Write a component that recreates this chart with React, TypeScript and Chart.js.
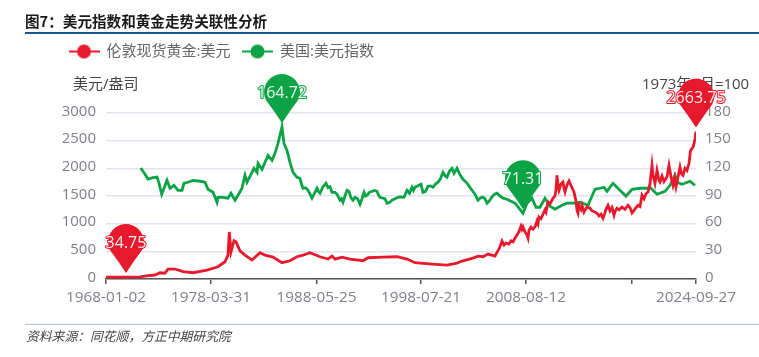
import React, { useEffect, useRef } from "react";
import { Chart, registerables } from "chart.js";

Chart.register(...registerables);

const seriesNames = ["伦敦现货黄金:美元", "美国:美元指数"];
const titleText = "图7：美元指数和黄金走势关联性分析";
const sourceText = "资料来源：同花顺，方正中期研究院";
const leftUnit = "美元/盎司";
const rightUnit = "1973年3月=100";

const xTickPositions = [0, 10.5, 21.05, 31.5, 42, 52.55, 59];
const xTickLabels = ["1968-01-02", "1978-03-31", "1988-05-25", "1998-07-21", "2008-08-12", "", "2024-09-27"];

const goldPos = [0, 2, 3.4, 4.2, 4.9, 5.4, 5.9, 6.2, 6.9, 7.7, 8.7, 10.1, 11.2, 11.9, 12.2, 12.33, 12.5, 12.8, 13, 13.4, 13.9, 14.6, 15.4, 15.9, 16.7, 17.6, 18.4, 19.1, 19.7, 20.4, 21.4, 22.2, 22.6, 22.9, 23.6, 24.4, 25.7, 26.2, 27.7, 29.1, 30.1, 30.9, 32.6, 34.1, 35.1, 35.6, 36.7, 37.2, 37.7, 38.2, 38.9,
  39.4, 39.6, 39.8, 40, 40.3, 40.5, 40.7, 40.9, 41.1, 41.3, 41.5, 41.6, 41.7, 41.9, 42.1, 42.2, 42.3, 42.5, 42.7, 42.9, 43.1, 43.2, 43.3, 43.5, 43.7, 43.9, 44, 44.2, 44.4, 44.7, 44.9, 45, 45.1, 45.2, 45.3, 45.5, 45.7, 45.8, 45.9, 46.1, 46.3, 46.5, 46.8, 47, 47.1, 47.2, 47.3, 47.5, 47.6, 47.8, 47.9, 48.1, 48.4, 48.6, 48.9, 49.1, 49.3, 49.5, 49.7, 49.9, 50, 50.2, 50.4, 50.6, 50.8, 50.9, 51.1, 51.3, 51.6, 51.9, 52.2, 52.4, 52.6, 52.8, 53, 53.2, 53.4, 53.6, 53.8, 54, 54.2, 54.4, 54.6, 54.7, 54.9, 55, 55.1, 55.3, 55.4, 55.6, 55.8, 56.1, 56.2, 56.3, 56.5, 56.7, 56.85, 57, 57.2, 57.4, 57.55, 57.7, 57.9, 58.1, 58.3, 58.45, 58.6, 58.7, 58.8, 58.9, 59];
const goldValues = [35, 34.75, 38, 60, 72, 113, 108, 180, 180, 132, 113, 162, 222, 312, 432, 850, 492, 690, 672, 510, 432, 342, 474, 432, 396, 294, 330, 402, 432, 474, 402, 360, 414, 360, 396, 360, 330, 384, 396, 402, 360, 294, 270, 252, 288, 324, 378, 414, 402, 450, 414,
  582, 684, 612, 650, 630, 690, 672, 740, 793, 860, 955, 900, 942, 850, 793, 740, 880, 937, 900, 942, 1050, 1000, 1122, 1090, 1171, 1250, 1210, 1393, 1360, 1459, 1500, 1620, 1874, 1700, 1604, 1720, 1753, 1640, 1573, 1700, 1771, 1690, 1573, 1400, 1243, 1190, 1330, 1260, 1333, 1210, 1243, 1300, 1279, 1230, 1210, 1189, 1140, 1170, 1099, 1200, 1260, 1333, 1230, 1290, 1153, 1220, 1279, 1250, 1300, 1260, 1333, 1290, 1195, 1240, 1290, 1333, 1310, 1513, 1450, 1540, 1573, 1720, 2054, 1880, 1730, 1850, 1964, 1780, 1753, 1860, 1760, 1843, 1950, 2054, 1850, 1694, 1820, 1663, 1840, 2023, 1900, 1874, 2000, 1960, 2090, 2320, 2360, 2380, 2450, 2530, 2663.75];

const dollarPos = [3.47, 3.9, 4.2, 4.7, 5.1, 5.3, 5.57, 5.8, 6.1, 6.4, 6.8, 7.2, 7.6, 7.8, 8.2, 8.7, 9.4, 9.9, 10.2, 10.7, 11.1, 11.2, 11.7, 12.2, 12.5, 12.9, 13.2, 13.6, 13.9, 14.1, 14.8, 15.1, 15.2, 15.6, 16.2, 16.6, 16.9, 17.2, 17.6, 17.8, 18.1, 18.4, 18.7, 19.1,
  19.4, 19.55, 19.7, 19.95, 20.2, 20.4, 20.6, 20.85, 21.1, 21.25, 21.4, 21.7, 22, 22.2, 22.4, 22.6, 22.9, 23.1, 23.4, 23.55, 23.7, 23.9, 24.1, 24.3, 24.5, 24.7, 24.9, 25.15, 25.4, 25.6, 25.8, 25.95, 26.1, 26.35, 26.6, 26.85, 27.1, 27.25, 27.4, 27.7, 27.9, 28.1, 28.35, 28.6, 28.9, 29.2, 29.5, 29.8, 30.1, 30.35, 30.6, 30.75, 30.9, 31.2, 31.5, 31.7, 31.95, 32.2, 32.45, 32.7, 32.95, 33.2, 33.45, 33.7, 33.9, 34.1, 34.35, 34.6, 34.8, 35.1, 35.4, 35.7, 36.1, 36.6, 36.9, 37.2, 37.45, 37.7, 37.9, 38.1, 38.35, 38.6, 38.85, 39.1, 39.4, 39.7, 40.1,
  40.9, 41.7, 42.1, 42.6, 43, 43.4, 43.9, 44.4, 44.9, 45.6, 46.1, 46.9, 47.4, 48.2, 48.9, 49.4, 49.8, 50.1, 50.7, 51.2, 52, 52.6, 53.4, 54.1, 54.4, 55.1, 55.9, 56.4, 56.9, 57.1, 57.6, 58.4, 58.9];
const dollarValues = [120.3, 113.5, 108.4, 110, 110.6, 103.8, 91.9, 98.4, 107, 98.4, 101.6, 96.2, 96.2, 103.8, 104.9, 107, 106, 104.9, 97.3, 94, 83.2, 88.6, 88.6, 87.6, 93, 85.4, 90.8, 98.4, 112.4, 104.9, 120, 115.7, 125.4, 118.9, 134, 128.6, 136.2, 147, 164.72, 147, 139.4, 126.5, 115.7, 110.3,
  109.2, 103, 98.4, 99, 96.2, 92, 87.6, 93, 98.4, 95, 93, 100, 103.8, 99, 100, 94, 94, 92, 85.4, 87, 83.2, 90, 96.2, 95, 88, 85.4, 88.6, 87, 81, 87, 94, 90, 90.8, 94, 95.1, 96, 95.1, 91, 88.6, 87.6, 87, 82.2, 83, 85.4, 87, 88.6, 89, 88.6, 96.2, 93, 99.5, 96, 99.5, 101, 102.7, 94, 95, 100.5, 101, 99.5, 103, 104.9, 109, 115.7, 112, 110.3, 117, 120, 114.6, 120, 113, 108.1, 104, 96.2, 92, 85.4, 88, 88.6, 87, 82.2, 85, 89, 92, 93, 90, 87.6, 86.5,
  82.2, 71.31, 82.2, 87.6, 77.8, 77.8, 87.6, 78.9, 75.7, 80, 82.2, 82.2, 83.2, 80, 97.3, 98.4, 99.5, 95.1, 103.8, 98.4, 89.7, 97.3, 98.4, 98.4, 99.5, 91.9, 95.1, 101.6, 112.4, 104.9, 102.7, 106, 101.6];

const RED = "#e8192c";
const GREEN = "#0ba345";
const TICK = "#7f7f8c";
const GRID = "#e1e4ee";
const FONT = '"Open Sans", "Noto Sans CJK SC", sans-serif';

const legendIcon = (color: string) => {
  const c = document.createElement("canvas");
  c.width = 31;
  c.height = 16;
  const g = c.getContext("2d")!;
  g.strokeStyle = color;
  g.lineWidth = 2;
  g.beginPath();
  g.moveTo(0, 8);
  g.lineTo(31, 8);
  g.stroke();
  g.fillStyle = color;
  g.beginPath();
  g.arc(15.5, 8, 7, 0, Math.PI * 2);
  g.fill();
  return c;
};

const pinPlugin = {
  id: "pins",
  beforeDraw(chart: any) {
    chart.legend.left = 57;
    chart.legend.top = 32;
  },
  beforeDatasetsDraw(chart: any) {
    const { ctx } = chart;
    ctx.save();
    ctx.font = `15px ${FONT}`;
    ctx.fillStyle = "#444444";
    ctx.textBaseline = "middle";
    ctx.textAlign = "left";
    ctx.fillText(leftUnit, 73, 85);
    ctx.fillText(rightUnit, 642, 85);
    ctx.restore();
  },
  afterDatasetsDraw(chart: any) {
    const { ctx } = chart;
    chart.data.datasets.forEach((ds: any) => {
      const scale = chart.scales[ds.yAxisID];
      const pins = ds.pinValues as number[];
      pins.forEach((v) => {
        const idx = ds.data.findIndex((p: any) => p.y === v);
        const x = chart.scales.x.getPixelForValue(ds.data[idx].x);
        const tip = scale.getPixelForValue(v) - 4;
        const r = 18;
        const cy = tip - 31;
        ctx.save();
        ctx.fillStyle = ds.borderColor;
        ctx.beginPath();
        ctx.arc(x, cy, r, Math.PI * 0.86, Math.PI * 0.14);
        ctx.quadraticCurveTo(x + 7, cy + 20, x, tip);
        ctx.quadraticCurveTo(x - 7, cy + 20, x - r * Math.cos(Math.PI * 0.14), cy + r * Math.sin(Math.PI * 0.14));
        ctx.closePath();
        ctx.fill();
        ctx.font = `16px ${FONT}`;
        ctx.textAlign = "center";
        ctx.textBaseline = "middle";
        ctx.lineWidth = 2;
        ctx.strokeStyle = ds.borderColor;
        ctx.lineJoin = "round";
        const label = v.toFixed(2);
        ctx.strokeText(label, x, cy + 1.5);
        ctx.fillStyle = "rgba(255,255,255,0.92)";
        ctx.fillText(label, x, cy + 1.5);
        ctx.restore();
      });
    });
  },
};

const zip = (xs: number[], ys: number[]) => xs.map((x, i) => ({ x, y: ys[i] }));

export default function App() {
  const ref = useRef<HTMLCanvasElement>(null);
  useEffect(() => {
    const chart = new Chart(ref.current!, {
      type: "line",
      data: {
        datasets: [
          {
            label: seriesNames[0],
            data: zip(goldPos, goldValues),
            yAxisID: "y",
            borderColor: RED,
            backgroundColor: RED,
            borderWidth: 2.8,
            pointRadius: 0,
            tension: 0,
            pinValues: [34.75, 2663.75],
          } as any,
          {
            label: seriesNames[1],
            data: zip(dollarPos, dollarValues),
            yAxisID: "y1",
            borderColor: GREEN,
            backgroundColor: GREEN,
            borderWidth: 2.8,
            pointRadius: 0,
            tension: 0,
            pinValues: [164.72, 71.31],
          } as any,
        ],
      },
      options: {
        animation: false,
        responsive: false,
        layout: { padding: { top: 76 } },
        plugins: {
          tooltip: { enabled: false },
          legend: {
            position: "top",
            align: "start",
            labels: {
              padding: 12,
              usePointStyle: true,
              pointStyleWidth: 30,
              font: { family: FONT, size: 15 },
              color: "#666666",
              generateLabels: (c: any) =>
                c.data.datasets.map((d: any, i: number) => ({
                  text: d.label,
                  fontColor: "#666666",
                  pointStyle: legendIcon(d.borderColor),
                  datasetIndex: i,
                  lineWidth: 0,
                  strokeStyle: "transparent",
                  fillStyle: d.borderColor,
                })),
            },
          },
        },
        scales: {
          x: {
            type: "linear",
            min: 0,
            max: 59,
            afterBuildTicks: (s: any) => {
              s.ticks = xTickPositions.map((value) => ({ value }));
            },
            afterFit: (s: any) => {
              s.height = 78;
            },
            ticks: {
              autoSkip: false,
              maxRotation: 0,
              color: TICK,
              font: { family: FONT, size: 15.3 },
              padding: 4,
              callback: (v: any) => xTickLabels[xTickPositions.indexOf(Number(v))] ?? "",
            },
            grid: { drawOnChartArea: false, drawTicks: true, tickLength: 5, color: "#555555", lineWidth: 1.5 },
            border: { color: "#555555", width: 1.5 },
          },
          y: {
            position: "left",
            min: 0,
            max: 3000,
            afterFit: (s: any) => {
              s.width = 106;
            },
            ticks: {
              stepSize: 500,
              color: TICK,
              font: { family: FONT, size: 15 },
              padding: 10,
              labelOffset: -1.5,
              callback: (v: any) => String(v),
            },
            grid: { color: GRID, lineWidth: 1.6, drawTicks: false },
            border: { display: false },
          },
          y1: {
            position: "right",
            min: 0,
            max: 180,
            afterFit: (s: any) => {
              s.width = 63;
            },
            ticks: { stepSize: 30, color: TICK, font: { family: FONT, size: 15 }, padding: 9, labelOffset: -1.5 },
            grid: { display: false, drawTicks: false },
            border: { display: false },
          },
        },
      } as any,
      plugins: [pinPlugin as any],
    });
    return () => chart.destroy();
  }, []);

  return (
    <div style={{ position: "absolute", left: 0, top: 0, width: 759, height: 357, background: "#fff", overflow: "hidden" }}>
      <canvas ref={ref} width={759} height={357} style={{ position: "absolute", left: 0, top: 0 }} />
      <div
        style={{
          position: "absolute",
          left: 25,
          top: 12,
          fontFamily: '"Noto Sans CJK SC", sans-serif',
          fontWeight: 700,
          fontSize: 14.6,
          lineHeight: "18px",
          color: "#1a1a1a",
          whiteSpace: "nowrap",
        }}
      >
        {titleText}
      </div>
      <div style={{ position: "absolute", left: 25, right: 0, top: 31.5, height: 2, background: "#14578a" }} />
      <div style={{ position: "absolute", left: 25, right: 0, top: 324, height: 1, background: "#a9c4d8" }} />
      <div
        style={{
          position: "absolute",
          left: 26,
          top: 327,
          fontFamily: '"Noto Sans CJK SC", sans-serif',
          fontStyle: "italic",
          fontSize: 12.8,
          lineHeight: "17px",
          color: "#444444",
          whiteSpace: "nowrap",
        }}
      >
        {sourceText}
      </div>
    </div>
  );
}
